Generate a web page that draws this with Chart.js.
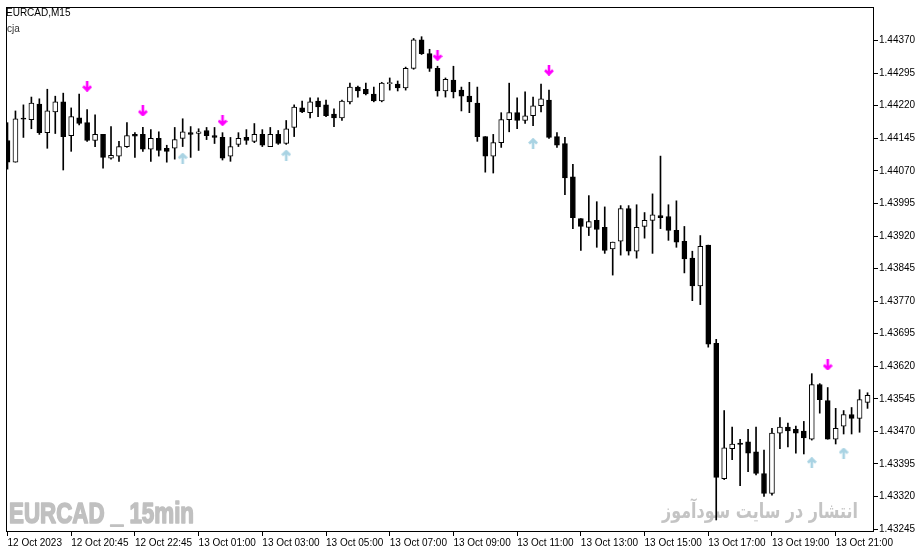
<html>
<head>
<title>EURCAD,M15</title>
<style>
body { margin: 0; background: #fff; }
</style>
</head>
<body>
<script src="https://cdn.jsdelivr.net/npm/chart.js@4.4.0/dist/chart.umd.min.js"></script>

<canvas id="myChart" width="920" height="554"></canvas>

<script type="text/javascript">
// EURCAD M15 bars, 12 Oct 2023 18:45 onwards
var opens = [1.44140,1.44090,1.44190,1.44188,1.44224,1.44158,1.44206,1.44229,1.44151,1.44192,
  1.44181,1.44140,1.44154,1.44099,1.44104,1.44126,1.44154,1.44154,1.44120,1.44145,
  1.44122,1.44122,1.44145,1.44158,1.44156,1.44163,1.44151,1.44147,1.44104,1.44131,
  1.44147,1.44138,1.44154,1.44126,1.44154,1.44133,1.44170,1.44215,1.44204,1.44231,
  1.44222,1.44201,1.44192,1.44229,1.44263,1.44258,1.44247,1.44231,1.44271,1.44270,
  1.44261,1.44306,1.44372,1.44340,1.44306,1.44254,1.44279,1.44256,1.44242,1.44226,
  1.44149,1.44104,1.44135,1.44188,1.44204,1.44186,1.44197,1.44220,1.44233,1.44149,
  1.44133,1.44056,1.43960,1.43940,1.43956,1.43940,1.43890,1.43908,1.43983,1.43885,
  1.43942,1.43956,1.43967,1.43965,1.43933,1.43908,1.43869,1.43805,1.43899,1.43673,
  1.43361,1.43430,1.43443,1.43446,1.43423,1.43373,1.43327,1.43466,1.43480,1.43475,
  1.43471,1.43452,1.43578,1.43541,1.43452,1.43482,1.43509,1.43500,1.43537];
var highs = [1.44181,1.44208,1.44222,1.44240,1.44236,1.44258,1.44242,1.44249,1.44215,1.44247,
  1.44211,1.44199,1.44154,1.44172,1.44138,1.44181,1.44158,1.44170,1.44165,1.44160,
  1.44129,1.44170,1.44190,1.44172,1.44167,1.44170,1.44170,1.44158,1.44147,1.44158,
  1.44165,1.44179,1.44165,1.44170,1.44163,1.44186,1.44222,1.44231,1.44238,1.44238,
  1.44233,1.44213,1.44233,1.44272,1.44265,1.44272,1.44263,1.44274,1.44284,1.44277,
  1.44309,1.44375,1.44379,1.44350,1.44311,1.44284,1.44311,1.44263,1.44274,1.44263,
  1.44149,1.44154,1.44204,1.44272,1.44238,1.44252,1.44240,1.44270,1.44256,1.44158,
  1.44147,1.44085,1.43960,1.44013,1.43999,1.43987,1.43906,1.43990,1.43990,1.43992,
  1.43974,1.44017,1.44104,1.43992,1.44001,1.43942,1.43885,1.43921,1.43899,1.43682,
  1.43518,1.43480,1.43452,1.43475,1.43480,1.43427,1.43477,1.43502,1.43489,1.43482,
  1.43493,1.43603,1.43580,1.43571,1.43523,1.43518,1.43525,1.43566,1.43559];
var lows = [1.44074,1.44090,1.44147,1.44167,1.44154,1.44122,1.44156,1.44072,1.44115,1.44176,
  1.44138,1.44126,1.44076,1.44097,1.44092,1.44124,1.44101,1.44115,1.44092,1.44104,
  1.44090,1.44097,1.44126,1.44101,1.44117,1.44142,1.44133,1.44095,1.44092,1.44126,
  1.44131,1.44135,1.44126,1.44126,1.44131,1.44131,1.44149,1.44204,1.44192,1.44195,
  1.44195,1.44172,1.44186,1.44224,1.44240,1.44245,1.44229,1.44229,1.44256,1.44254,
  1.44256,1.44304,1.44338,1.44299,1.44242,1.44240,1.44238,1.44208,1.44204,1.44138,
  1.44067,1.44065,1.44124,1.44160,1.44167,1.44179,1.44174,1.44206,1.44145,1.44124,
  1.44015,1.43937,1.43887,1.43921,1.43894,1.43880,1.43830,1.43876,1.43876,1.43869,
  1.43915,1.43880,1.43937,1.43910,1.43894,1.43835,1.43771,1.43762,1.43664,1.43266,
  1.43359,1.43405,1.43345,1.43377,1.43370,1.43320,1.43323,1.43430,1.43434,1.43420,
  1.43418,1.43450,1.43512,1.43452,1.43441,1.43464,1.43464,1.43468,1.43523];
var closes = [1.44090,1.44190,1.44189,1.44226,1.44158,1.44208,1.44229,1.44149,1.44195,1.44179,
  1.44140,1.44154,1.44101,1.44106,1.44126,1.44151,1.44150,1.44120,1.44145,1.44117,
  1.44115,1.44142,1.44160,1.44154,1.44160,1.44151,1.44147,1.44099,1.44126,1.44145,
  1.44140,1.44154,1.44129,1.44154,1.44133,1.44167,1.44217,1.44206,1.44229,1.44217,
  1.44197,1.44192,1.44231,1.44263,1.44254,1.44247,1.44231,1.44272,1.44273,1.44261,
  1.44306,1.44372,1.44340,1.44306,1.44254,1.44281,1.44252,1.44242,1.44229,1.44149,
  1.44104,1.44135,1.44188,1.44204,1.44186,1.44197,1.44220,1.44236,1.44147,1.44129,
  1.44054,1.43962,1.43942,1.43953,1.43935,1.43887,1.43906,1.43983,1.43885,1.43940,
  1.43956,1.43969,1.43962,1.43933,1.43906,1.43867,1.43805,1.43896,1.43671,1.43364,
  1.43432,1.43441,1.43440,1.43420,1.43373,1.43327,1.43466,1.43480,1.43471,1.43466,
  1.43455,1.43578,1.43543,1.43452,1.43477,1.43509,1.43500,1.43543,1.43553];

// cja signals
var sellBars = [10, 17, 27, 54, 68, 103];
var sellPrices = [1.44265, 1.44208, 1.44186, 1.44336, 1.44302, 1.43623];
var buyBars = [22, 35, 66, 101, 105];
var buyPrices = [1.44099, 1.44106, 1.44133, 1.43398, 1.43420];

var xTickBars = [0, 8, 16, 24, 32, 40, 48, 56, 64, 72, 80, 88, 96, 104];
var xTickLabels = ["12 Oct 2023", "12 Oct 20:45", "12 Oct 22:45", "13 Oct 01:00", "13 Oct 03:00",
  "13 Oct 05:00", "13 Oct 07:00", "13 Oct 09:00", "13 Oct 11:00", "13 Oct 13:00",
  "13 Oct 15:00", "13 Oct 17:00", "13 Oct 19:00", "13 Oct 21:00"];
var yTicks = [1.43245, 1.43320, 1.43395, 1.43470, 1.43545, 1.43620, 1.43695, 1.43770,
  1.43845, 1.43920, 1.43995, 1.44070, 1.44145, 1.44220, 1.44295, 1.44370];

var symbolTitle = "EURCAD,M15";
var indicatorName = "cja";
var watermarkLeft = "EURCAD _ 15min";
var watermarkRight = "انتشار در سایت سودآموز";

function arrowImage(color, down) {
  var c = document.createElement("canvas");
  c.width = 10; c.height = 11;
  var g = c.getContext("2d");
  g.strokeStyle = color;
  g.lineWidth = 2.6;
  g.lineCap = "butt";
  g.beginPath();
  if (down) {
    g.moveTo(5, 0); g.lineTo(5, 9.5);
    g.moveTo(1, 5.5); g.lineTo(5, 9.5); g.lineTo(9, 5.5);
  } else {
    g.moveTo(5, 11); g.lineTo(5, 1.5);
    g.moveTo(1, 5.5); g.lineTo(5, 1.5); g.lineTo(9, 5.5);
  }
  g.stroke();
  return c;
}

var wicks = [], bodies = [], bodyColors = [];
for (var i = 0; i < opens.length; i++) {
  wicks.push({x: i, y: [lows[i], highs[i]]});
  bodies.push({x: i, y: [opens[i], closes[i]]});
  bodyColors.push(closes[i] >= opens[i] ? "#ffffff" : "#000000");
}
var sells = sellBars.map(function (b, k) { return {x: b, y: sellPrices[k]}; });
var buys = buyBars.map(function (b, k) { return {x: b, y: buyPrices[k]}; });

var textFont = '"Liberation Sans", Arial, sans-serif';

var overlay = {
  id: "overlay",
  beforeDatasetsDraw: function (chart) {
    var ctx = chart.ctx;
    ctx.save();
    ctx.fillStyle = "#c0c0c0";
    ctx.strokeStyle = "#c0c0c0";
    ctx.lineWidth = 1.6;
    ctx.lineJoin = "round";
    ctx.textBaseline = "alphabetic";
    ctx.textAlign = "left";
    ctx.font = "bold 29px " + textFont;
    var w = ctx.measureText(watermarkLeft).width;
    ctx.translate(9, 523);
    ctx.scale(185 / w, 1);
    ctx.fillText(watermarkLeft, 0, 0);
    ctx.strokeText(watermarkLeft, 0, 0);
    ctx.restore();

    ctx.save();
    ctx.fillStyle = "#c4c4c4";
    ctx.textBaseline = "alphabetic";
    ctx.font = 'bold 21px "DejaVu Sans"';
    var w2 = ctx.measureText(watermarkRight).width;
    ctx.translate(662, 518);
    ctx.scale(196 / w2, 1);
    ctx.fillText(watermarkRight, 0, 0);
    ctx.restore();
  },
  afterDraw: function (chart) {
    var ctx = chart.ctx, a = chart.chartArea;
    ctx.save();
    ctx.strokeStyle = "#000";
    ctx.lineWidth = 1;
    ctx.strokeRect(a.left + 0.5, a.top + 0.5, a.right - a.left - 1, a.bottom - a.top - 1);
    ctx.fillStyle = "#000";
    ctx.font = "10px " + textFont;
    ctx.textBaseline = "alphabetic";
    ctx.fillText(symbolTitle, 6, 16);
    ctx.fillStyle = "#333";
    ctx.fillText(indicatorName, 7, 32);
    ctx.restore();
  }
};

var ctx = document.getElementById("myChart").getContext("2d");

var myChart = new Chart(ctx, {
  type: "bar",
  data: {
    datasets: [
      {
        type: "line",
        label: "sell",
        data: sells,
        showLine: false,
        pointStyle: arrowImage("#ff00ff", true),
        pointRadius: 5,
        order: 0
      },
      {
        type: "line",
        label: "buy",
        data: buys,
        showLine: false,
        pointStyle: arrowImage("#a9d3e3", false),
        pointRadius: 5,
        order: 0
      },
      {
        label: "body",
        data: bodies,
        backgroundColor: bodyColors,
        borderColor: "#000000",
        borderWidth: 1,
        borderSkipped: false,
        barThickness: 5,
        minBarLength: 1,
        grouped: false,
        order: 1
      },
      {
        label: "wick",
        data: wicks,
        backgroundColor: "#000000",
        borderWidth: 0,
        barThickness: 1,
        grouped: false,
        order: 2
      }
    ]
  },
  options: {
    responsive: false,
    animation: false,
    events: [],
    layout: { padding: { left: 2, top: 1, right: 0, bottom: 0 } },
    plugins: { legend: { display: false }, tooltip: { enabled: false } },
    scales: {
      x: {
        type: "linear",
        offset: false,
        min: -0.1875,
        max: 108.8125,
        afterBuildTicks: function (scale) {
          scale.ticks = xTickBars.map(function (v) { return {value: v}; });
        },
        afterFit: function (scale) { scale.height = 22; },
        grid: { display: true, offset: false, drawOnChartArea: false, drawTicks: true, tickLength: 4, color: "#000" },
        border: { display: false },
        ticks: {
          autoSkip: false,
          maxRotation: 0,
          align: "start",
          padding: 1,
          color: "#000",
          font: { family: textFont, size: 10 },
          callback: function (value) {
            var k = xTickBars.indexOf(value);
            return k >= 0 ? xTickLabels[k] : "";
          }
        }
      },
      y: {
        type: "linear",
        position: "right",
        min: 1.432383,
        max: 1.444474,
        afterBuildTicks: function (scale) {
          scale.ticks = yTicks.map(function (v) { return {value: v}; });
        },
        afterFit: function (scale) { scale.width = 46; },
        grid: { display: true, drawOnChartArea: false, drawTicks: true, tickLength: 4, color: "#000" },
        border: { display: false },
        ticks: {
          autoSkip: false,
          padding: 1,
          color: "#000",
          font: { family: textFont, size: 10 },
          callback: function (value) { return value.toFixed(5); }
        }
      }
    }
  },
  plugins: [overlay]
});
</script>
</body>
</html>
